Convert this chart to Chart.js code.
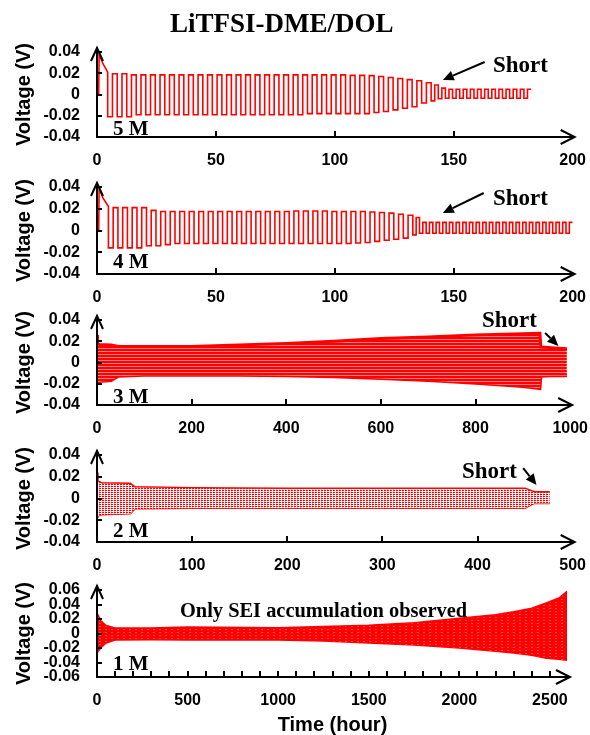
<!DOCTYPE html>
<html>
<head>
<meta charset="utf-8">
<script src="https://cdn.jsdelivr.net/npm/chart.js@4.4.0/dist/chart.umd.min.js"></script>
<style>
  body { margin: 0; background: #fff; width: 590px; height: 735px; position: relative; overflow: hidden; }
  canvas { position: absolute; left: 0; }
  svg { position: absolute; left: 0; top: 0; }
  .serif { font-family: "Times New Roman", "Liberation Serif", serif; font-weight: bold; fill: #000; }
</style>
</head>
<body>
<canvas id="c5M"></canvas>
<canvas id="c4M"></canvas>
<canvas id="c3M"></canvas>
<canvas id="c2M"></canvas>
<canvas id="c1M"></canvas>
<svg width="590" height="735">
  <text class="serif" x="170" y="32" font-size="27">LiTFSI-DME/DOL</text>
  <text class="serif" x="493" y="72" font-size="23">Short</text>
  <text class="serif" x="493" y="205" font-size="23">Short</text>
  <text class="serif" x="482" y="327" font-size="23">Short</text>
  <text class="serif" x="462" y="478" font-size="23">Short</text>
  <text class="serif" x="113" y="135" font-size="21">5 M</text>
  <text class="serif" x="113" y="268" font-size="21">4 M</text>
  <text class="serif" x="113" y="403" font-size="21">3 M</text>
  <text class="serif" x="113" y="537" font-size="21">2 M</text>
  <text class="serif" x="113" y="670" font-size="21">1 M</text>
  <text class="serif" x="180" y="617" font-size="20.4">Only SEI accumulation observed</text>
</svg>
<script>
// ---- data ----
// axis ticks
const yTicks4 = [-0.04, -0.02, 0, 0.02, 0.04];
const yTicks6 = [-0.06, -0.04, -0.02, 0, 0.02, 0.04, 0.06];
const xTicks5M = [0, 50, 100, 150, 200];
const xTicks4M = [0, 50, 100, 150, 200];
const xTicks3M = [0, 200, 400, 600, 800, 1000];
const xTicks2M = [0, 100, 200, 300, 400, 500];
const xLabels1M = [0, 500, 1000, 1500, 2000, 2500];

// 5 M: first hours, then one high/low plateau per cycle
const start5M_t = [0, 0.7, 0.9, 2.5, 4.5];
const start5M_v = [0, 0, 0.038, 0.029, 0.021];
const cycle5M = 4.0;
const high5M = [0.0195, 0.0195, 0.0185, 0.0185, 0.0185, 0.0185, 0.0185, 0.0185, 0.0185, 0.0185,
                0.0185, 0.0185, 0.0185, 0.0185, 0.0185, 0.0185, 0.0185, 0.0185, 0.0185, 0.0185,
                0.0185, 0.0185, 0.0185, 0.0185, 0.0185, 0.018, 0.018, 0.0178, 0.017, 0.016,
                0.015, 0.014, 0.013, 0.011];
const low5M = [-0.021, -0.021, -0.021, -0.019, -0.019, -0.019, -0.019, -0.019, -0.019, -0.019,
               -0.019, -0.019, -0.019, -0.019, -0.019, -0.019, -0.019, -0.019, -0.019, -0.019,
               -0.019, -0.018, -0.018, -0.018, -0.018, -0.018, -0.018, -0.018, -0.017, -0.016,
               -0.0145, -0.013, -0.0115, -0.008];
const cycle5Mshort = 3.0;
const high5Mshort = [0.009, 0.006, 0.005, 0.005, 0.005, 0.005, 0.005, 0.005, 0.005, 0.005, 0.005, 0.005, 0.005, 0.005];
const low5Mshort = [-0.006, -0.004, -0.0035, -0.0035, -0.0035, -0.0035, -0.0035, -0.0035, -0.0035, -0.0035, -0.0035, -0.0035, -0.0035, -0.0035];

// 4 M
const start4M_t = [0, 0.7, 0.9, 2.5, 4.8];
const start4M_v = [0, 0, 0.039, 0.030, 0.022];
const cycle4M = 4.0;
const high4M = [0.021, 0.021, 0.021, 0.021, 0.0185, 0.0175, 0.0175, 0.0175, 0.0175, 0.0175,
                0.0175, 0.0175, 0.0175, 0.0175, 0.0175, 0.0175, 0.0175, 0.0175, 0.0175, 0.018,
                0.018, 0.018, 0.018, 0.0175, 0.0175, 0.0175, 0.0175, 0.017, 0.0165, 0.016,
                0.015, 0.014];
const low4M = [-0.016, -0.016, -0.016, -0.016, -0.014, -0.014, -0.013, -0.012, -0.012, -0.012,
               -0.012, -0.012, -0.012, -0.012, -0.012, -0.012, -0.012, -0.012, -0.012, -0.012,
               -0.012, -0.012, -0.012, -0.012, -0.012, -0.012, -0.0115, -0.011, -0.01, -0.009,
               -0.008, -0.007];
const cycle4Mshort = 2.8;
const high4Mshort = [0.012, 0.0075, 0.0075, 0.0075, 0.0075, 0.0075, 0.0075, 0.0075, 0.0075, 0.0075, 0.0075, 0.0075,
                     0.0075, 0.0075, 0.0075, 0.0075, 0.0075, 0.0075, 0.0075, 0.0075, 0.0075, 0.0075, 0.0075, 0.0075];
const low4Mshort = [-0.004, -0.0025, -0.0025, -0.0025, -0.0025, -0.0025, -0.0025, -0.0025, -0.0025, -0.0025, -0.0025, -0.0025,
                    -0.0025, -0.0025, -0.0025, -0.0025, -0.0025, -0.0025, -0.0025, -0.0025, -0.0025, -0.0025, -0.0025, -0.0025];

// 3 M, 2 M, 1 M: dense cycling, upper/lower envelope of the band
const t3M = [0, 1, 5, 30, 45, 100, 200, 300, 400, 500, 600, 700, 800, 900, 936, 938, 960, 993];
const up3M = [0.026, 0.018, 0.017, 0.0165, 0.015, 0.015, 0.015, 0.0165, 0.018, 0.020, 0.0225, 0.024, 0.026, 0.027, 0.0275, 0.0145, 0.014, 0.013];
const low3M = [-0.019, -0.019, -0.018, -0.017, -0.013, -0.012, -0.012, -0.012, -0.0125, -0.0135, -0.015, -0.017, -0.0195, -0.0225, -0.0245, -0.013, -0.0125, -0.0125];

const t2M = [0, 1, 5, 35, 40, 100, 200, 300, 400, 450, 456, 460, 476];
const up2M = [0.024, 0.016, 0.0145, 0.014, 0.0108, 0.010, 0.0095, 0.0095, 0.0095, 0.0095, 0.0075, 0.0063, 0.0063];
const low2M = [-0.017, -0.016, -0.015, -0.014, -0.0095, -0.009, -0.009, -0.009, -0.009, -0.009, -0.006, -0.0045, -0.0045];

const t1M = [0, 20, 50, 100, 300, 500, 1000, 1250, 1500, 1750, 2000, 2200, 2300, 2400, 2480, 2550, 2595];
const up1M = [0.028, 0.018, 0.011, 0.0075, 0.0075, 0.009, 0.008, 0.0095, 0.0115, 0.015, 0.021, 0.026, 0.030, 0.035, 0.042, 0.049, 0.058];
const low1M = [-0.027, -0.020, -0.013, -0.009, -0.0085, -0.009, -0.009, -0.0105, -0.013, -0.016, -0.020, -0.0245, -0.027, -0.030, -0.034, -0.0355, -0.037];

const RED = '#ff0000';

// square wave built from the plateaus read per cycle
function cycling(startT, startV, period, highs, lows, period2, highs2, lows2) {
  const pts = startT.map((t, i) => ({ x: t, y: startV[i] }));
  let t = startT[startT.length - 1];
  const add = (p, hs, ls) => {
    hs.forEach((h, i) => {
      pts.push({ x: t, y: ls[i] }, { x: t + p / 2, y: ls[i] }, { x: t + p / 2, y: h }, { x: t + p, y: h });
      t += p;
    });
  };
  add(period, highs, lows);
  add(period2, highs2, lows2);
  return pts;
}

function pattern(rows) {
  const c = document.createElement('canvas');
  c.width = rows[0].length; c.height = rows.length;
  const g = c.getContext('2d');
  const col = { r: RED, p: '#ff8080', w: '#ffffff', l: '#ffb0b0', q: '#ff5050' };
  rows.forEach((row, y) => [...row].forEach((ch, x) => { g.fillStyle = col[ch]; g.fillRect(x, y, 1, 1); }));
  return g.createPattern(c, 'repeat');
}

function band(ts, ups, lows, fillPat, edge) {
  return [
    { data: ts.map((t, i) => ({ x: t, y: ups[i] })), borderColor: RED, borderWidth: edge, fill: '+1', backgroundColor: fillPat },
    { data: ts.map((t, i) => ({ x: t, y: lows[i] })), borderColor: RED, borderWidth: edge, fill: false }
  ];
}

const axesPlugin = {
  id: 'axes',
  afterDraw(chart, args, opts) {
    const { ctx, chartArea: a, scales: { x, y } } = chart;
    ctx.save();
    ctx.strokeStyle = '#000';
    ctx.lineWidth = 2;
    ctx.beginPath();
    ctx.moveTo(a.left, a.bottom); ctx.lineTo(a.left, a.top - 4);
    ctx.moveTo(a.left - 1, a.bottom); ctx.lineTo(a.right + 2, a.bottom);
    y.ticks.forEach(t => {
      const py = Math.round(y.getPixelForValue(t.value));
      ctx.moveTo(a.left, py); ctx.lineTo(a.left + 5, py);
    });
    x.ticks.forEach(t => {
      if (t.value === x.min || t.value === x.max) return;
      const px = Math.round(x.getPixelForValue(t.value));
      ctx.moveTo(px, a.bottom); ctx.lineTo(px, a.bottom - 6);
    });
    ctx.stroke();
    // arrow heads of the axes
    ctx.beginPath();
    ctx.moveTo(a.left - 6, a.top + 9); ctx.lineTo(a.left, a.top - 4); ctx.lineTo(a.left + 6, a.top + 9);
    ctx.moveTo(a.right - 12, a.bottom - 7); ctx.lineTo(a.right + 2, a.bottom); ctx.lineTo(a.right - 12, a.bottom + 7);
    ctx.stroke();
    // "Short" pointer
    if (opts.arrow) {
      const [t1, v1, t2, v2] = opts.arrow;
      const x1 = x.getPixelForValue(t1), y1 = y.getPixelForValue(v1);
      const x2 = x.getPixelForValue(t2), y2 = y.getPixelForValue(v2);
      const ang = Math.atan2(y2 - y1, x2 - x1);
      const hl = 11, hw = 5;
      const bx = x2 - hl * Math.cos(ang), by = y2 - hl * Math.sin(ang);
      ctx.beginPath();
      ctx.moveTo(x1, y1); ctx.lineTo(bx, by);
      ctx.stroke();
      ctx.fillStyle = '#000';
      ctx.beginPath();
      ctx.moveTo(x2, y2);
      ctx.lineTo(bx + hw * Math.sin(ang), by - hw * Math.cos(ang));
      ctx.lineTo(bx - hw * Math.sin(ang), by + hw * Math.cos(ang));
      ctx.closePath();
      ctx.fill();
    }
    ctx.restore();
  }
};

const FONT = 'Liberation Sans, Arial, sans-serif';

function makeChart(id, p) {
  const cv = document.getElementById(id);
  const xh = p.cBottom - p.bottom;
  const config = () => ({
    type: 'line',
    data: { datasets: p.datasets },
    options: {
      responsive: false,
      animation: false,
      devicePixelRatio: 1,
      layout: { padding: 0 },
      elements: { point: { radius: 0 }, line: { tension: 0, borderJoinStyle: 'miter' } },
      plugins: { legend: { display: false }, tooltip: { enabled: false }, axes: { arrow: p.arrow } },
      scales: {
        x: {
          type: 'linear', min: 0, max: p.xMax,
          afterBuildTicks: s => { if (p.xTicks) s.ticks = p.xTicks.map(v => ({ value: v })); },
          afterFit: s => { s.height = xh; },
          grid: { display: false, drawTicks: false },
          border: { display: false },
          ticks: {
            stepSize: p.xStep, autoSkip: false, maxRotation: 0, padding: 14, color: '#000',
            font: { family: FONT, size: 16, weight: 'bold' },
            callback: v => (!p.xLabels || p.xLabels.includes(v)) ? v : ''
          },
          title: p.xTitle ? { display: true, text: 'Time (hour)', color: '#000', padding: { top: 0, bottom: 0 },
                              font: { family: FONT, size: 20, weight: 'bold', lineHeight: 1 } } : { display: false }
        },
        y: {
          min: p.yTicks[0], max: p.yTicks[p.yTicks.length - 1],
          afterBuildTicks: s => { s.ticks = p.yTicks.map(v => ({ value: v })); },
          afterFit: s => { s.width = 97; },
          grid: { display: false, drawTicks: false },
          border: { display: false },
          ticks: {
            autoSkip: false, padding: 17, color: '#000',
            font: { family: FONT, size: 16, weight: 'bold', lineHeight: 1 },
            callback: v => v === 0 ? '0' : v.toFixed(2)
          },
          title: { display: true, text: 'Voltage (V)', color: '#000', padding: { top: 14, bottom: 0 },
                   font: { family: FONT, size: 20, weight: 'bold', lineHeight: 1 } }
        }
      }
    },
    plugins: [axesPlugin]
  });
  // first pass measures the room Chart.js keeps around the plot, second pass places it
  cv.width = 590; cv.height = 200;
  let chart = new Chart(cv, config());
  const topRoom = chart.chartArea.top;
  const rightRoom = chart.width - chart.chartArea.right;
  chart.destroy();
  cv.width = Math.round(p.right + rightRoom);
  cv.height = Math.round(topRoom + (p.bottom - p.top) + xh);
  cv.style.top = Math.round(p.top - topRoom) + 'px';
  chart = new Chart(cv, config());
  return chart;
}

const wave = { borderColor: RED, borderWidth: 1.6, fill: false };

makeChart('c5M', {
  cBottom: 171, top: 52, bottom: 137, right: 573, xMax: 200, xTicks: xTicks5M, yTicks: yTicks4,
  arrow: [163, 0.0306, 145.4, 0.0136],
  datasets: [Object.assign({ data: cycling(start5M_t, start5M_v, cycle5M, high5M, low5M, cycle5Mshort, high5Mshort, low5Mshort) }, wave)]
});

makeChart('c4M', {
  cBottom: 308, top: 187, bottom: 274, right: 573, xMax: 200, xTicks: xTicks4M, yTicks: yTicks4,
  arrow: [162.6, 0.0345, 145.4, 0.0161],
  datasets: [Object.assign({ data: cycling(start4M_t, start4M_v, cycle4M, high4M, low4M, cycle4Mshort, high4Mshort, low4Mshort) }, wave)]
});

makeChart('c3M', {
  cBottom: 439, top: 320, bottom: 405, right: 570, xMax: 1000, xTicks: xTicks3M, yTicks: yTicks4,
  arrow: [947, 0.0278, 975, 0.0155],
  datasets: band(t3M, up3M, low3M, pattern(['r', 'r', 'p']), 3)
});

makeChart('c2M', {
  cBottom: 576, top: 455, bottom: 542, right: 573, xMax: 500, xTicks: xTicks2M, yTicks: yTicks4,
  arrow: [448, 0.028, 462, 0.0124],
  datasets: band(t2M, up2M, low2M, pattern(['rrw', 'lww']), 1.5)
});

makeChart('c1M', {
  cBottom: 735, top: 590, bottom: 677, right: 568, xMax: 2600, xStep: 100, xLabels: xLabels1M,
  yTicks: yTicks6, xTitle: true,
  datasets: band(t1M, up1M, low1M, pattern(['rrrrrr', 'rrrqqr', 'rrrrrr']), 1.5)
});
</script>
</body>
</html>
